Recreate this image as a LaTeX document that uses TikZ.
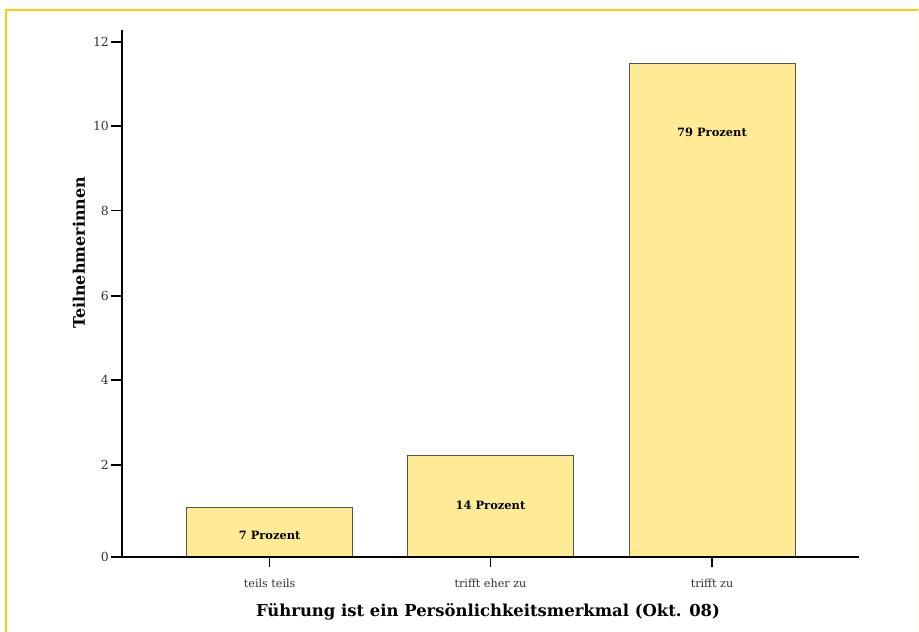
\documentclass[tikz,border=0pt]{standalone}
\usepackage{fontspec}
\setmainfont{DejaVu Serif}
\begin{document}
\begin{tikzpicture}[x=1bp,y=-1bp,
  barbox/.style={draw=barline, line width=1pt, fill=barfill},
  axisline/.style={line width=1.2pt, black},
  ticklab/.style={font=\fontsize{12.5}{14}\selectfont, text=black!80, anchor=east, inner sep=1.5pt},
  catlab/.style={font=\fontsize{11.2}{13}\selectfont, text=black!80},
  barlab/.style={font=\bfseries\fontsize{11.5}{13}\selectfont}]
\definecolor{barfill}{RGB}{255,235,150}
\definecolor{barline}{RGB}{85,85,70}
\definecolor{frame}{RGB}{255,208,0}
\useasboundingbox (0,0) rectangle (919,632);
\fill[white] (0,0) rectangle (919,632);
% frame
\draw[frame, line width=3pt] (6,640) -- (6,10) -- (919,10);
\draw[frame!15, line width=1pt] (918,10) -- (918,640);
% bars
\node[barbox, minimum width=166bp, minimum height=50bp, inner sep=0] (b1) at (269.7,532) {};
\node[barbox, minimum width=165.6bp, minimum height=101.7bp, inner sep=0] (b2) at (490.5,506.3) {};
\node[barbox, minimum width=166bp, minimum height=493bp, inner sep=0] (b3) at (712,310.5) {};
\node[barlab] (l1) at (269.7,535) {7 Prozent};
\node[barlab] (l2) at (490.5,505) {14 Prozent};
\node[barlab] (l3) at (712,132) {79 Prozent};
% axes
\coordinate (ytop) at (122,30);
\coordinate (orig) at (122,557);
\coordinate (xend) at (859,557);
\draw[axisline] (ytop) -- (orig) -- (xend);
% y ticks
\foreach \v/\y in {0/557,2/465,4/380,6/296,8/210.5,10/126,12/42}{
  \coordinate (yt\v) at (122,\y);
  \draw[axisline] (yt\v) -- ++(-11,0) node[ticklab] (tl\v) {\v};
}
% x ticks
\foreach \n/\x/\t in {1/269.7/teils teils,2/490.5/trifft eher zu,3/712/trifft zu}{
  \coordinate (xt\n) at (\x,557);
  \draw[axisline] (xt\n) -- ++(0,10);
  \node[catlab] (cl\n) at (\x,583) {\t};
}
\node[font=\bfseries\fontsize{16.5}{19}\selectfont] (xtitle) at (488,612) {Führung ist ein Persönlichkeitsmerkmal (Okt. 08)};
\node[font=\bfseries\fontsize{16}{19}\selectfont, rotate=90] (ytitle) at (79,253) {Teilnehmerinnen};
\end{tikzpicture}
\end{document}
